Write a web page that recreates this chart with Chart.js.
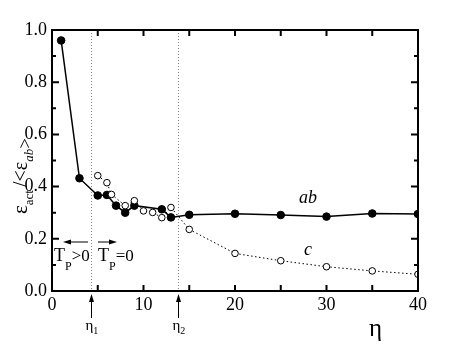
<!DOCTYPE html>
<html>
<head>
<meta charset="utf-8">
<script src="https://cdn.jsdelivr.net/npm/chart.js@4"></script>
<style>
  body { margin: 0; background: #fff; }
</style>
</head>
<body>
<canvas id="myChart" width="457" height="349"></canvas>
<script>
// eta values and activation-energy ratios for in-plane (ab) and out-of-plane (c)
const etaAb = [1, 3, 5, 6, 7, 8, 9, 12, 13, 15, 20, 25, 30, 35, 40];
const ratioAb = [0.96, 0.432, 0.366, 0.368, 0.327, 0.300, 0.327, 0.313, 0.282, 0.292, 0.296, 0.291, 0.285, 0.297, 0.295];
const etaC = [5, 6, 6.5, 8, 9, 10, 11, 12, 13, 15, 20, 25, 30, 35, 40];
const ratioC = [0.442, 0.415, 0.37, 0.327, 0.346, 0.307, 0.301, 0.281, 0.320, 0.236, 0.144, 0.116, 0.093, 0.077, 0.064];
const xTicks = [0, 10, 20, 30, 40];
const yTicks = [0, 0.2, 0.4, 0.6, 0.8, 1.0];
const etaMarks = [4.3, 13.8];   // eta_1, eta_2
const etaMarkNames = ['1', '2'];

const serif = '"Liberation Serif", "DejaVu Serif", serif';

function pairs(xs, ys) {
    return xs.map((x, i) => ({x: x, y: ys[i]}));
}

// draws text made of pieces (for subscripts), left to right from x
function drawRich(ctx, x, y, parts) {
    ctx.textAlign = 'left';
    ctx.textBaseline = 'alphabetic';
    parts.forEach(p => {
        ctx.font = (p.italic ? 'italic ' : '') + p.size + 'px ' + serif;
        ctx.fillText(p.t, x, y + (p.dy || 0));
        x += ctx.measureText(p.t).width + (p.gap || 0);
    });
    return x;
}

function arrow(ctx, x1, y1, x2, y2) {
    const a = Math.atan2(y2 - y1, x2 - x1);
    ctx.beginPath();
    ctx.moveTo(x1, y1);
    ctx.lineTo(x2 - 5 * Math.cos(a), y2 - 5 * Math.sin(a));
    ctx.stroke();
    ctx.beginPath();
    ctx.moveTo(x2, y2);
    ctx.lineTo(x2 - 8 * Math.cos(a) + 2.5 * Math.sin(a), y2 - 8 * Math.sin(a) - 2.5 * Math.cos(a));
    ctx.lineTo(x2 - 8 * Math.cos(a) - 2.5 * Math.sin(a), y2 - 8 * Math.sin(a) + 2.5 * Math.cos(a));
    ctx.closePath();
    ctx.fill();
}

const extras = {
    id: 'extras',
    beforeDatasetsDraw(chart) {
        const ctx = chart.ctx, a = chart.chartArea, xs = chart.scales.x;
        ctx.save();
        ctx.strokeStyle = '#888';
        ctx.lineWidth = 1;
        ctx.setLineDash([1, 2]);
        etaMarks.forEach(v => {
            const px = Math.round(xs.getPixelForValue(v)) + 0.5;
            ctx.beginPath();
            ctx.moveTo(px, a.top);
            ctx.lineTo(px, a.bottom);
            ctx.stroke();
        });
        ctx.restore();
    },
    afterDraw(chart) {
        const ctx = chart.ctx, a = chart.chartArea;
        const xs = chart.scales.x, ys = chart.scales.y;
        ctx.save();
        ctx.strokeStyle = '#000';
        ctx.fillStyle = '#000';
        ctx.lineWidth = 2;
        // frame
        ctx.strokeRect(a.left, a.top, a.right - a.left, a.bottom - a.top);
        // inward ticks on all sides
        for (let v = 5; v < 40; v += 5) {
            const px = xs.getPixelForValue(v);
            ctx.beginPath();
            ctx.moveTo(px, a.bottom); ctx.lineTo(px, a.bottom - 6);
            ctx.moveTo(px, a.top); ctx.lineTo(px, a.top + 6);
            ctx.stroke();
        }
        for (let i = 1; i < 10; i++) {
            const py = ys.getPixelForValue(i / 10);
            const len = i % 2 === 0 ? 7 : 4;
            ctx.beginPath();
            ctx.moveTo(a.left, py); ctx.lineTo(a.left + len, py);
            ctx.moveTo(a.right, py); ctx.lineTo(a.right - len, py);
            ctx.stroke();
        }
        // eta_1, eta_2 arrows under the axis
        ctx.lineWidth = 1;
        etaMarks.forEach((v, i) => {
            const px = Math.round(xs.getPixelForValue(v)) + 0.5;
            arrow(ctx, px, 318, px, 294);
            drawRich(ctx, px - 6, 330, [
                {t: 'η', size: 15},
                {t: etaMarkNames[i], size: 10, dy: 4}
            ]);
        });
        // axis title (x)
        ctx.font = '25px ' + serif;
        ctx.textAlign = 'left';
        ctx.fillText('η', 369, 336);
        // series labels
        ctx.font = 'italic 18px ' + serif;
        ctx.textAlign = 'center';
        ctx.textBaseline = 'middle';
        ctx.fillText('ab', 308, 198);
        ctx.fillText('c', 308, 250);
        // T_P regions
        drawRich(ctx, 54, 261, [
            {t: 'T', size: 18},
            {t: 'P', size: 12, dy: 9},
            {t: '>0', size: 17}
        ]);
        drawRich(ctx, 98, 261, [
            {t: 'T', size: 18},
            {t: 'P', size: 12, dy: 9},
            {t: '=0', size: 17}
        ]);
        arrow(ctx, 88, 242, 63, 242);
        arrow(ctx, 98, 242, 117, 242);
        // axis title (y), rotated
        ctx.translate(27, 214);
        ctx.rotate(-Math.PI / 2);
        drawRich(ctx, 0, 0, [
            {t: 'ε', size: 21},
            {t: 'act', size: 13, dy: 6, gap: 3},
            {t: '/<ε', size: 20},
            {t: 'ab', size: 13, dy: 6, italic: true},
            {t: '>', size: 19, dy: 4}
        ]);
        ctx.restore();
    }
};

const ctx = document.getElementById('myChart');
new Chart(ctx, {
    type: 'scatter',
    data: {
        datasets: [{
            label: 'c',
            data: pairs(etaC, ratioC),
            showLine: true,
            borderColor: '#000',
            borderWidth: 1,
            borderDash: [1.5, 2.5],
            pointRadius: 3.3,
            pointBackgroundColor: '#fff',
            pointBorderColor: '#000',
            pointBorderWidth: 1,
            order: 1
        }, {
            label: 'ab',
            data: pairs(etaAb, ratioAb),
            showLine: true,
            borderColor: '#000',
            borderWidth: 1.5,
            pointRadius: 3.8,
            pointBackgroundColor: '#000',
            pointBorderColor: '#000',
            pointBorderWidth: 1,
            order: 2
        }]
    },
    options: {
        responsive: false,
        animation: false,
        layout: {padding: {top: 30, right: 39, left: 0, bottom: 0}},
        plugins: {
            legend: {display: false},
            tooltip: {enabled: false}
        },
        scales: {
            x: {
                type: 'linear',
                min: 0,
                max: 40,
                afterFit(scale) { scale.height = 58; },
                afterBuildTicks(scale) { scale.ticks = xTicks.map(v => ({value: v})); },
                grid: {display: false, drawTicks: false},
                border: {display: true, color: '#000', width: 2},
                ticks: {
                    color: '#000',
                    padding: 3,
                    font: {family: serif, size: 18}
                }
            },
            y: {
                min: 0,
                max: 1,
                afterFit(scale) { scale.width = 52; },
                afterBuildTicks(scale) { scale.ticks = yTicks.map(v => ({value: v})); },
                grid: {display: false, drawTicks: false},
                border: {display: true, color: '#000', width: 2},
                ticks: {
                    color: '#000',
                    padding: 5,
                    font: {family: serif, size: 18},
                    callback: v => v.toFixed(1)
                }
            }
        }
    },
    plugins: [extras]
});
</script>
</body>
</html>
